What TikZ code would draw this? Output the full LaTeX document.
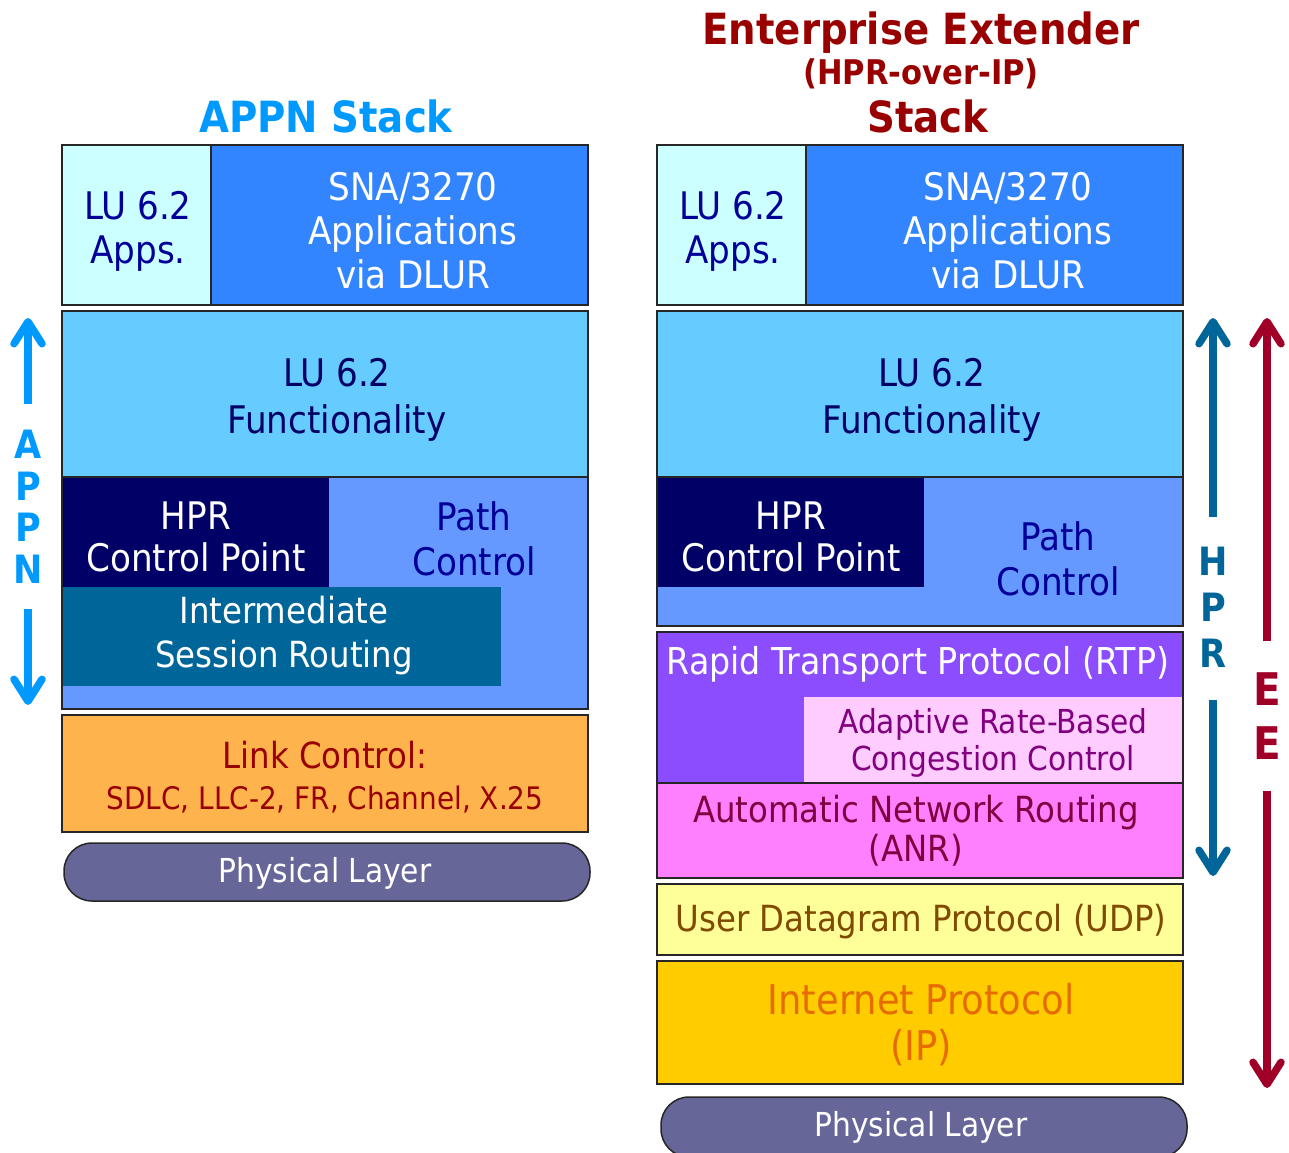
\documentclass[tikz,border=0pt]{standalone}
\usepackage{fontspec}
\setmainfont{DejaVu Sans Condensed}
\usetikzlibrary{arrows.meta}

\definecolor{ciel}{HTML}{CCFFFF}
\definecolor{bleuSNA}{HTML}{3385FF}
\definecolor{bleuLU}{HTML}{66CCFF}
\definecolor{bleuPC}{HTML}{6699FF}
\definecolor{nuit}{HTML}{000066}
\definecolor{bleuISR}{HTML}{006699}
\definecolor{bleuTxt}{HTML}{000099}
\definecolor{orangeLC}{HTML}{FFB34D}
\definecolor{rougeTxt}{HTML}{990000}
\definecolor{phys}{HTML}{666699}
\definecolor{violetRTP}{HTML}{8C4DFF}
\definecolor{rosePale}{HTML}{FFCCFF}
\definecolor{violetTxt}{HTML}{800080}
\definecolor{roseANR}{HTML}{FF80FF}
\definecolor{bordeaux}{HTML}{800040}
\definecolor{jauneUDP}{HTML}{FFFF99}
\definecolor{brunTxt}{HTML}{804A00}
\definecolor{orIP}{HTML}{FFCC00}
\definecolor{orangeTxt}{HTML}{E66C00}
\definecolor{bleuAPPN}{HTML}{0099FF}
\definecolor{bleuHPR}{HTML}{006699}
\definecolor{rougeEE}{HTML}{A00028}

\newcommand{\couche}[6]{\node[couche,fill=#6,minimum width=#3pt-#1pt,minimum height=#4pt-#2pt] (#5) at ({(#1+#3)/2},{(#2+#4)/2}) {}}
\newcommand{\plaque}[6]{\node[plein,fill=#6,minimum width=#3pt-#1pt,minimum height=#4pt-#2pt] (#5) at ({(#1+#3)/2},{(#2+#4)/2}) {}}
\newcommand{\ecrit}[5]{\node[#1,text=#4] (#2) at (#3) {#5}}
\newcommand{\taille}[2]{\fontsize{#1}{#2}\selectfont}

\tikzset{
  couche/.style={draw=black!85,line width=1.5pt,inner sep=0pt,outer sep=0pt},
  plein/.style={inner sep=0pt,outer sep=0pt},
  mot/.style={align=center,inner sep=0pt,font=\taille{38}{44}},
  titre/.style={inner sep=0pt,font=\bfseries\taille{43}{43}},
  lettre/.style={inner sep=0pt,font=\bfseries\taille{39}{39}},
  fleche/.style={line width=7.5pt,-{Straight Barb[length=22pt,width=28pt,line cap=round,line join=round]}},
  physique/.style={couche,fill=phys,rounded corners=28pt}
}

\begin{document}
\begin{tikzpicture}[x=1pt,y=-1pt]
	\useasboundingbox (0,0) rectangle (1289,1152);
	\ecrit{titre}{titreL}{326,116}{bleuAPPN}{APPN Stack};
	\couche{62}{145}{211}{305}{appsL}{ciel};
	\couche{211}{145}{588}{305}{snaL}{bleuSNA};
	\ecrit{mot}{tAppsL}{138,231}{bleuTxt}{LU 6.2\\Apps.};
	\ecrit{mot}{tSnaL}{413,231}{white}{SNA/3270\\Applications\\via DLUR};
	\couche{62}{311}{588}{477}{fonctL}{bleuLU};
	\ecrit{mot,font=\taille{38}{47}}{tFonctL}{337,400}{nuit}{LU 6.2\\Functionality};
	\couche{62}{477}{588}{709}{chemL}{bleuPC};
	\plaque{62}{477}{329}{587}{hprL}{nuit};
	\plaque{62}{587}{501}{686}{isrL}{bleuISR};
	\draw[couche] (chemL.north west) rectangle (chemL.south east);
	\ecrit{mot,font=\taille{38}{42}}{tHprL}{196,537}{white}{HPR\\Control Point};
	\ecrit{mot,font=\taille{36}{44}}{tIsrL}{284,636}{white}{Intermediate\\Session Routing};
	\ecrit{mot,font=\taille{38}{45}}{tPcL}{474,539}{bleuTxt}{Path\\Control};
	\couche{62}{715}{588}{832}{linkL}{orangeLC};
	\ecrit{mot,font=\taille{36}{40}}{tLinkL}{325,755}{rougeTxt}{Link Control:};
	\ecrit{mot,font=\taille{31}{36}}{tSdlcL}{325,800}{rougeTxt}{SDLC, LLC-2, FR, Channel, X.25};
	\node[physique,minimum width=526pt,minimum height=58pt] (physL) at (327,872) {};
	\ecrit{mot,font=\taille{33}{36}}{tPhysL}{325,873}{white}{Physical Layer};
	\ecrit{lettre}{lA}{28,444}{bleuAPPN}{A};
	\ecrit{lettre}{lP1}{28,486}{bleuAPPN}{P};
	\ecrit{lettre}{lP2}{28,527}{bleuAPPN}{P};
	\ecrit{lettre}{lN}{28,569}{bleuAPPN}{N};
	\coordinate (hautL) at (28,318);
	\coordinate (basL) at (28,705);
	\draw[fleche,bleuAPPN,shorten <=26pt] (lA.north) -- (hautL);
	\draw[fleche,bleuAPPN,shorten <=26pt] (lN.south) -- (basL);

	\ecrit{titre}{titreR1}{921,33}{rougeTxt}{Enterprise Extender};
	\ecrit{titre,font=\bfseries\taille{34}{34}}{titreR2}{921,74}{rougeTxt}{(HPR-over-IP)};
	\ecrit{titre}{titreR3}{928,116}{rougeTxt}{Stack};
	\couche{657}{145}{806}{305}{appsR}{ciel};
	\couche{806}{145}{1183}{305}{snaR}{bleuSNA};
	\ecrit{mot}{tAppsR}{733,231}{bleuTxt}{LU 6.2\\Apps.};
	\ecrit{mot}{tSnaR}{1008,231}{white}{SNA/3270\\Applications\\via DLUR};
	\couche{657}{311}{1183}{477}{fonctR}{bleuLU};
	\ecrit{mot,font=\taille{38}{47}}{tFonctR}{932,400}{nuit}{LU 6.2\\Functionality};
	\couche{657}{477}{1183}{626}{chemR}{bleuPC};
	\plaque{657}{477}{924}{587}{hprR}{nuit};
	\draw[couche] (chemR.north west) rectangle (chemR.south east);
	\ecrit{mot,font=\taille{38}{42}}{tHprR}{791,537}{white}{HPR\\Control Point};
	\ecrit{mot,font=\taille{38}{45}}{tPcR}{1058,559}{bleuTxt}{Path\\Control};
	\couche{657}{632}{1183}{783}{rtpR}{violetRTP};
	\plaque{804}{697}{1183}{783}{arbR}{rosePale};
	\draw[couche] (rtpR.north west) rectangle (rtpR.south east);
	\ecrit{mot,font=\taille{37}{40}}{tRtpR}{918,664}{white}{Rapid Transport Protocol (RTP)};
	\ecrit{mot,font=\taille{33}{37}}{tArbR}{993,743}{violetTxt}{Adaptive Rate-Based\\Congestion Control};
	\couche{657}{783}{1183}{878}{anrR}{roseANR};
	\ecrit{mot,font=\taille{36}{39}}{tAnrR}{916,831}{bordeaux}{Automatic Network Routing\\(ANR)};
	\couche{657}{884}{1183}{955}{udpR}{jauneUDP};
	\ecrit{mot,font=\taille{36}{40}}{tUdpR}{921,922}{brunTxt}{User Datagram Protocol (UDP)};
	\couche{657}{961}{1183}{1084}{ipR}{orIP};
	\ecrit{mot,font=\taille{41}{46}}{tIpR}{921,1025}{orangeTxt}{Internet Protocol\\(IP)};
	\node[physique,minimum width=526pt,minimum height=60pt] (physR) at (924,1127) {};
	\ecrit{mot,font=\taille{33}{36}}{tPhysR}{921,1127}{white}{Physical Layer};
	\ecrit{lettre}{lH}{1213,561}{bleuHPR}{H};
	\ecrit{lettre}{lP3}{1213,607}{bleuHPR}{P};
	\ecrit{lettre}{lR}{1213,653}{bleuHPR}{R};
	\coordinate (hautH) at (1213,318);
	\coordinate (basH) at (1213,876);
	\draw[fleche,bleuHPR,shorten <=30pt] (lH.north) -- (hautH);
	\draw[fleche,bleuHPR,shorten <=33pt] (lR.south) -- (basH);
	\ecrit{lettre,font=\bfseries\taille{45}{45}}{lE1}{1267,689}{rougeEE}{E};
	\ecrit{lettre,font=\bfseries\taille{45}{45}}{lE2}{1267,743}{rougeEE}{E};
	\coordinate (hautE) at (1267,318);
	\coordinate (basE) at (1267,1088);
	\draw[fleche,rougeEE,shorten <=31pt] (lE1.north) -- (hautE);
	\draw[fleche,rougeEE,shorten <=31pt] (lE2.south) -- (basE);
\end{tikzpicture}
\end{document}
